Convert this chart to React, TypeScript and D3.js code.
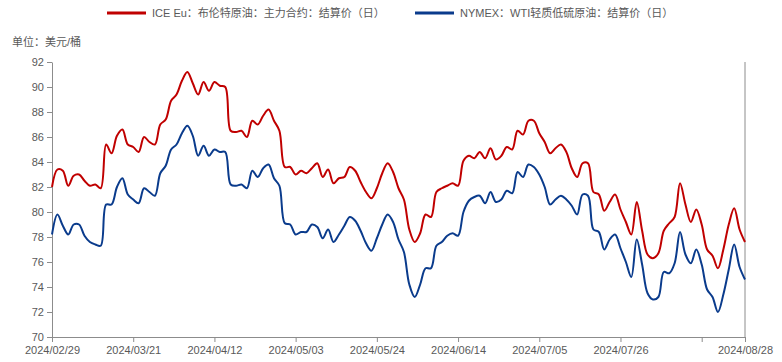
import React, { useEffect, useRef } from "react";
import * as d3 from "d3";

const WIDTH = 782;
const HEIGHT = 362;
const MARGIN = { top: 62, right: 37, bottom: 25, left: 52 };

const BRENT_NAME = "ICE Eu：布伦特原油：主力合约：结算价（日）";
const WTI_NAME = "NYMEX：WTI轻质低硫原油：结算价（日）";
const UNIT = "单位：美元/桶";

const RED = "#C00000";
const BLUE = "#0A3B8C";
const TEXT = "#595959";
const AXIS = "#8c8c8c";

// trading days between 2024/02/29 and 2024/08/28 (Good Friday closed)
const START = "2024-02-29";
const END = "2024-08-28";
const HOLIDAYS = ["2024-03-29"];

const TICK_DATES = [
  "2024/02/29",
  "2024/03/21",
  "2024/04/12",
  "2024/05/03",
  "2024/05/24",
  "2024/06/14",
  "2024/07/05",
  "2024/07/26",
  "2024/08/16",
  "2024/08/28",
];
const HIDDEN_LABELS = ["2024/08/16"];

const Y_TICKS = [70, 72, 74, 76, 78, 80, 82, 84, 86, 88, 90, 92];

const brent = [
  82.0, 83.4, 83.3, 82.1, 82.9, 83.0, 82.5, 82.1, 82.2, 81.9,
  85.4, 84.7, 86.1, 86.6, 85.4, 85.2, 84.8, 86.0, 85.6, 85.4,
  87.0, 87.4, 88.9, 89.4, 90.5, 91.2, 90.3, 89.4, 90.4, 89.7,
  90.4, 90.1, 90.0, 86.5, 86.4, 86.5, 86.0, 87.3, 87.0, 87.7,
  88.2, 87.3, 86.5, 83.6, 83.6, 83.0, 83.3, 83.1, 83.5, 83.9,
  82.8, 83.4, 82.3, 82.7, 82.8, 83.6, 83.3, 82.4, 81.6, 81.1,
  81.9, 83.1, 83.9, 83.2, 81.9, 81.0, 78.6, 77.6, 78.3, 79.8,
  79.6, 81.6, 81.9, 82.1, 82.3, 82.1, 84.1, 84.5, 84.3, 84.8,
  84.3, 85.1, 84.2, 84.5, 85.2, 85.0, 86.5, 86.2, 87.3, 87.3,
  86.3, 85.6, 84.7, 85.1, 85.4, 84.8, 83.5, 82.8, 83.9, 83.9,
  81.6, 81.4, 80.1, 80.8, 81.4, 80.2, 79.2, 78.2, 80.8, 78.5,
  76.6, 76.3, 76.7, 78.5, 79.1, 79.6, 82.3, 80.6, 79.2, 80.2,
  79.0, 77.0, 76.5, 75.5, 77.0, 79.0, 80.3, 78.6, 77.6,
];

const wti = [
  78.2, 79.8, 78.9, 78.2, 79.0, 79.0, 78.1, 77.6, 77.4, 77.3,
  80.6, 80.6, 82.0, 82.7, 81.4, 81.0, 80.7, 81.9, 81.6, 81.3,
  83.1, 83.7, 85.0, 85.4, 86.3, 86.9, 86.1, 84.5, 85.3, 84.5,
  85.0, 84.8, 84.8, 82.2, 82.1, 82.2, 81.9, 83.3, 82.8, 83.5,
  83.8, 82.7, 82.1, 79.1, 79.0, 78.2, 78.4, 78.4, 79.0, 78.8,
  77.9, 78.6, 77.6, 78.2, 78.9, 79.6, 79.3, 78.5, 77.5, 76.9,
  77.9, 79.0, 79.8, 79.2, 77.8, 76.8, 74.2, 73.2, 74.2, 75.5,
  75.5, 77.3, 77.6, 78.1, 78.3, 78.1, 80.0, 80.9, 81.2, 81.3,
  80.7, 81.6, 80.8, 81.0, 81.7, 81.5, 83.2, 82.8, 83.8, 83.6,
  83.0, 82.0, 80.6, 81.0, 81.3, 81.0, 80.5, 79.8, 81.4, 81.3,
  78.6, 78.4, 77.0, 77.8, 78.2, 77.1, 76.0, 74.8, 77.8, 75.8,
  73.5, 73.0, 73.2, 75.2, 75.1, 75.9, 78.4, 76.6, 75.9, 77.0,
  75.8, 73.8, 73.2, 72.0, 73.4, 75.4, 77.4, 75.6, 74.6,
];

const tradingDays = (): string[] => {
  const out: string[] = [];
  const fmt = d3.utcFormat("%Y/%m/%d");
  const iso = d3.utcFormat("%Y-%m-%d");
  for (
    let d = new Date(START + "T00:00:00Z");
    d <= new Date(END + "T00:00:00Z");
    d = d3.utcDay.offset(d, 1)
  ) {
    const wd = d.getUTCDay();
    if (wd === 0 || wd === 6) continue;
    if (HOLIDAYS.includes(iso(d))) continue;
    out.push(fmt(d));
  }
  return out;
};

const FONT = "'Liberation Sans', 'Noto Sans CJK SC', sans-serif";

const App = () => {
  const svgRef = useRef<SVGSVGElement>(null);

  useEffect(() => {
    const dates = tradingDays();
    const n = Math.min(dates.length, brent.length, wti.length);
    const days = dates.slice(0, n);

    const x = d3
      .scalePoint<string>()
      .domain(days)
      .range([MARGIN.left, WIDTH - MARGIN.right]);
    const y = d3
      .scaleLinear()
      .domain([70, 92])
      .range([HEIGHT - MARGIN.bottom, MARGIN.top]);

    const svg = d3.select(svgRef.current);
    svg.selectAll("*").remove();

    // legend
    const legend = [
      { name: BRENT_NAME, color: RED, x: 107 },
      { name: WTI_NAME, color: BLUE, x: 415 },
    ];
    legend.forEach((l) => {
      svg
        .append("line")
        .attr("x1", l.x)
        .attr("x2", l.x + 39)
        .attr("y1", 13)
        .attr("y2", 13)
        .attr("stroke", l.color)
        .attr("stroke-width", 3);
      svg
        .append("text")
        .attr("x", l.x + 45)
        .attr("y", 13)
        .attr("dy", "0.35em")
        .attr("fill", TEXT)
        .attr("font-size", 11)
        .attr("font-family", FONT)
        .text(l.name);
    });

    svg
      .append("text")
      .attr("x", 12)
      .attr("y", 42)
      .attr("dy", "0.35em")
      .attr("fill", TEXT)
      .attr("font-size", 11)
      .attr("font-family", FONT)
      .text(UNIT);

    // axes
    const yAxis = d3
      .axisLeft(y)
      .tickValues(Y_TICKS)
      .tickSize(5)
      .tickSizeOuter(0)
      .tickPadding(3);
    const gy = svg
      .append("g")
      .attr("transform", `translate(${MARGIN.left},0)`)
      .call(yAxis);

    const xAxis = d3
      .axisBottom(x)
      .tickValues(TICK_DATES.filter((d) => days.includes(d)))
      .tickFormat((d) => (HIDDEN_LABELS.includes(d) ? "" : d))
      .tickSize(5)
      .tickSizeOuter(0)
      .tickPadding(4);
    const gx = svg
      .append("g")
      .attr("transform", `translate(0,${HEIGHT - MARGIN.bottom})`)
      .call(xAxis);

    [gx, gy].forEach((g) => {
      g.select(".domain").attr("stroke", AXIS);
      g.selectAll(".tick line").attr("stroke", AXIS);
      g.selectAll(".tick text")
        .attr("fill", TEXT)
        .attr("font-size", 11)
        .attr("font-family", FONT);
    });

    // right border
    svg
      .append("line")
      .attr("x1", WIDTH - MARGIN.right)
      .attr("x2", WIDTH - MARGIN.right)
      .attr("y1", MARGIN.top)
      .attr("y2", HEIGHT - MARGIN.bottom)
      .attr("stroke", AXIS);

    const line = d3
      .line<number>()
      .x((_, i) => x(days[i]) as number)
      .y((d) => y(d))
      .curve(d3.curveCatmullRom.alpha(0.5));

    [
      { data: brent.slice(0, n), color: RED },
      { data: wti.slice(0, n), color: BLUE },
    ].forEach((s) => {
      svg
        .append("path")
        .datum(s.data)
        .attr("fill", "none")
        .attr("stroke", s.color)
        .attr("stroke-width", 2)
        .attr("d", line);
    });
  }, []);

  return (
    <svg
      ref={svgRef}
      width={WIDTH}
      height={HEIGHT}
      style={{ position: "absolute", left: 0, top: 0, background: "#fff" }}
    />
  );
};

export default App;
